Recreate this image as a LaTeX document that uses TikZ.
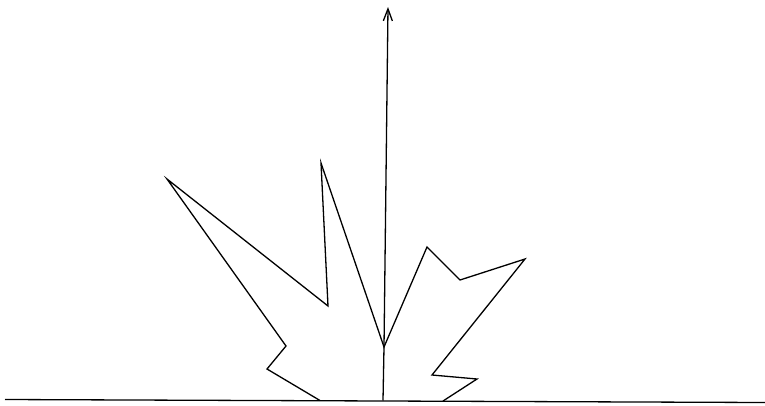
\documentclass[tikz,border=0pt]{standalone}
\usetikzlibrary{arrows.meta}
\begin{document}
\begin{tikzpicture}[x=1pt,y=-1pt,line width=1.3pt,line join=miter]
	\useasboundingbox (0,0)rectangle(765,405);
	\draw (5,399.5)--(765,402.5);
	\draw[-{Straight Barb[length=12pt,width=9pt]}] (383,400.5)--(384,347)--(388,7);
	\draw (320,400.5)--(267,369)--(286,346)--(167,179)--(328,306)--(321,163)--(384,347)
		--(427,247)--(460,280)--(525,259)--(432,375)--(477,379)--(443,401);
\end{tikzpicture}
\end{document}
